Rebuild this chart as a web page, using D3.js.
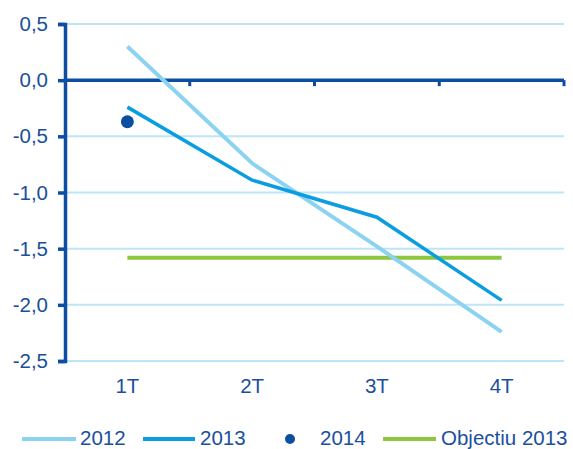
<!DOCTYPE html>
<html><head><meta charset="utf-8">
<script src="https://cdn.jsdelivr.net/npm/d3@7"></script>
<style>body{margin:0;background:#fff}text{font-family:"Liberation Sans",Arial,sans-serif}</style>
</head><body><svg id="c" width="573" height="449"></svg>
<script>
const categories = ["1T","2T","3T","4T"];
const s2012 = [0.30,-0.74,-1.48,-2.24];
const s2013 = [-0.24,-0.89,-1.22,-1.96];
const s2014 = [-0.37,null,null,null];
const objectiu = [-1.58,-1.58,-1.58,-1.58];
const yTicks = [0.5,0,-0.5,-1,-1.5,-2,-2.5];
const legendLabels = ["2012","2013","2014","Objectiu 2013"];

const axisCol="#0D4EA2", textCol="#1A4F9E", gridCol="#BDE5F7";
const c2012="#8CD3F1", c2013="#0A9EE0", c2014="#0B4EA2", cObj="#8DC63F";
const FS=20.5;
const svg=d3.select("#c");
const x=d3.scaleBand().domain(categories).range([65,564]);
const y=d3.scaleLinear().domain([-2.5,0.5]).range([361,24]);
const fmt=d=>d3.format(".1f")(d).replace(".",",").replace("−","-");

// gridlines
svg.append("g").selectAll("line").data(yTicks.filter(d=>d!==0)).join("line")
 .attr("x1",65).attr("x2",564).attr("y1",d=>y(d)).attr("y2",d=>y(d))
 .attr("stroke",gridCol).attr("stroke-width",2);

// y axis
const ya=svg.append("g").attr("transform","translate(65,0)").call(d3.axisLeft(y).tickValues(yTicks).tickFormat(fmt).tickSize(7).tickPadding(10));
ya.select(".domain").attr("stroke",axisCol).attr("stroke-width",3.5);
ya.selectAll(".tick line").attr("stroke",axisCol).attr("stroke-width",3.5);
ya.selectAll(".tick text").attr("fill",textCol).style("font-size",FS+"px");

// zero axis with category tick marks
svg.append("line").attr("x1",65).attr("x2",564).attr("y1",y(0)).attr("y2",y(0)).attr("stroke",axisCol).attr("stroke-width",3.5);
svg.append("g").selectAll("line").data(categories).join("line")
 .attr("x1",d=>x(d)+x.bandwidth()).attr("x2",d=>x(d)+x.bandwidth())
 .attr("y1",y(0)).attr("y2",y(0)+6).attr("stroke",axisCol).attr("stroke-width",3);

// category labels
const xb=svg.append("g").attr("transform","translate(0,361)").call(d3.axisBottom(x).tickSize(0).tickPadding(17));
xb.select(".domain").remove();
xb.selectAll(".tick text").attr("fill",textCol).style("font-size",FS+"px");

const cx=d=>x(d)+x.bandwidth()/2;
const line=d3.line().defined(d=>d.v!==null).x(d=>cx(d.c)).y(d=>y(d.v));
const mk=arr=>categories.map((c,i)=>({c,v:arr[i]}));
svg.append("path").datum(mk(objectiu)).attr("d",line).attr("fill","none").attr("stroke",cObj).attr("stroke-width",4);
svg.append("path").datum(mk(s2012)).attr("d",line).attr("fill","none").attr("stroke",c2012).attr("stroke-width",4);
svg.append("path").datum(mk(s2013)).attr("d",line).attr("fill","none").attr("stroke",c2013).attr("stroke-width",3.5);
svg.append("g").selectAll("circle").data(mk(s2014).filter(d=>d.v!==null)).join("circle")
 .attr("cx",d=>cx(d.c)).attr("cy",d=>y(d.v)).attr("r",6.5).attr("fill",c2014);

// legend
const leg=svg.append("g");
const items=[
 {t:legendLabels[0],type:"line",col:c2012,x0:22,x1:76,tx:80},
 {t:legendLabels[1],type:"line",col:c2013,x0:143,x1:195,tx:200},
 {t:legendLabels[2],type:"dot",col:c2014,x0:290,tx:320},
 {t:legendLabels[3],type:"line",col:cObj,x0:383,x1:436,tx:441}];
const ly=439;
items.forEach(it=>{
 if(it.type==="line") leg.append("line").attr("x1",it.x0).attr("x2",it.x1).attr("y1",ly).attr("y2",ly).attr("stroke",it.col).attr("stroke-width",4);
 else leg.append("circle").attr("cx",it.x0).attr("cy",ly).attr("r",5).attr("fill",it.col);
 leg.append("text").attr("x",it.tx).attr("y",445).attr("fill",textCol).style("font-size",FS+"px").text(it.t);
});
</script></body></html>
